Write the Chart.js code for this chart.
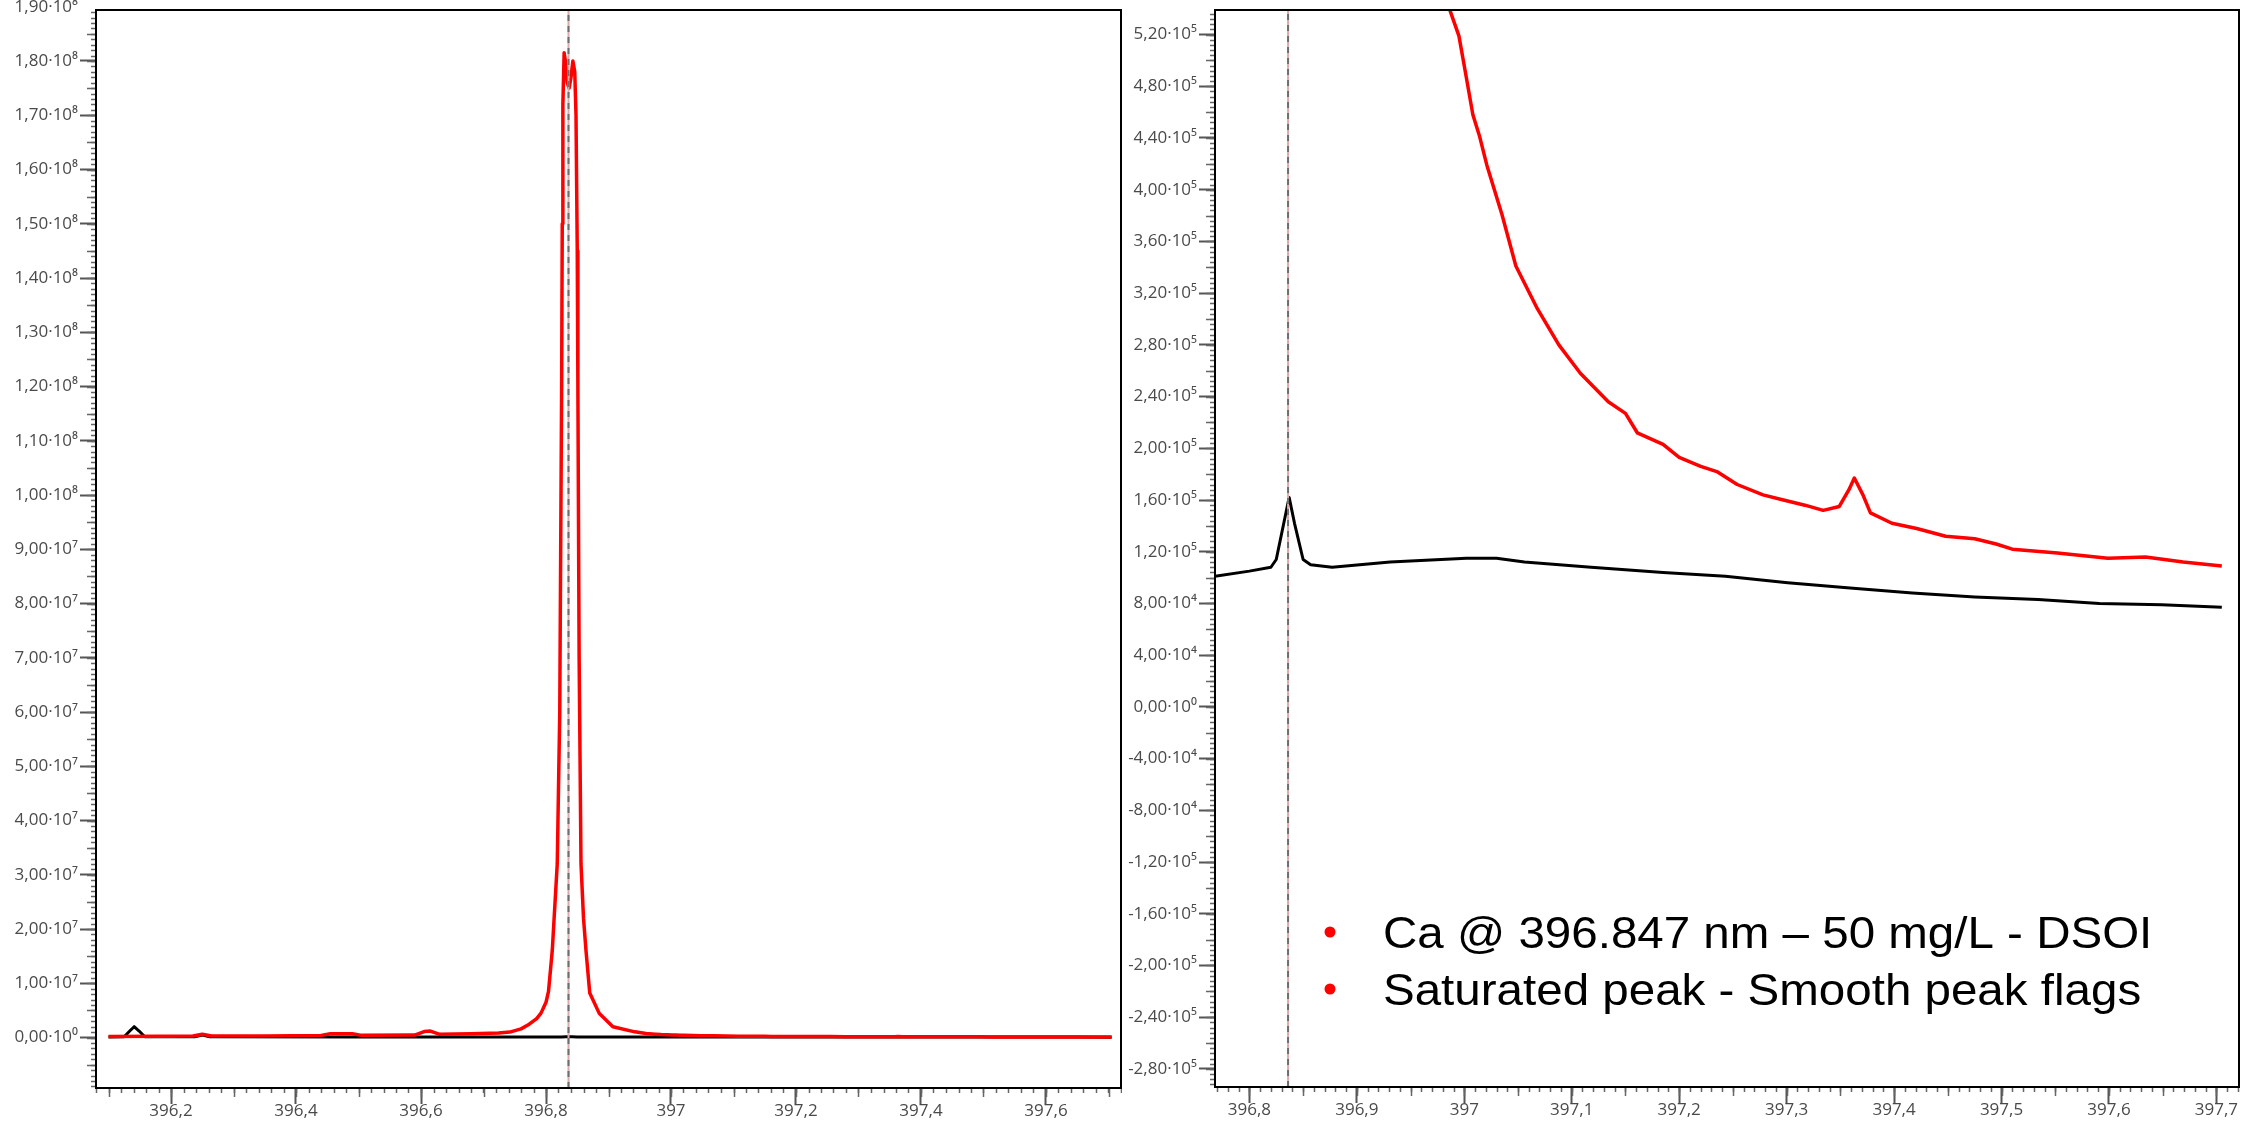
<!DOCTYPE html>
<html>
<head>
<meta charset="utf-8">
<script src="https://cdn.jsdelivr.net/npm/chart.js@4.4.1/dist/chart.umd.min.js"></script>
<style>
  html, body { margin: 0; padding: 0; background: #fff; }
  body { width: 2252px; height: 1130px; position: relative; overflow: hidden; }
  .box { position: absolute; top: 0; }
  #leftBox { left: 0; }
  #rightBox { left: 1122px; }
</style>
</head>
<body>
<div class="box" id="leftBox"><canvas id="leftChart" width="1122" height="1130"></canvas></div>
<div class="box" id="rightBox"><canvas id="rightChart" width="1130" height="1130"></canvas></div>
<script>
// 50 mg/L Ca spectrum (red), wavelength in nm and intensity
const redNm = [
  396.100, 396.180, 396.235, 396.250, 396.265, 396.350, 396.440, 396.455, 396.490, 396.505,
  396.590, 396.605, 396.615, 396.630, 396.680, 396.724, 396.742, 396.760, 396.771, 396.785,
  396.792, 396.800, 396.804, 396.810, 396.818, 396.822, 396.825, 396.826, 396.827, 396.829,
  396.831, 396.834, 396.837, 396.840, 396.843, 396.846, 396.848, 396.850, 396.851, 396.853,
  396.856, 396.860, 396.864, 396.870, 396.885, 396.907, 396.942, 396.960, 396.975, 396.984,
  396.995, 397.001, 397.008, 397.014, 397.021, 397.035, 397.048, 397.068, 397.088, 397.108,
  397.134, 397.150, 397.161, 397.185, 397.200, 397.220, 397.235, 397.254, 397.278, 397.297,
  397.317, 397.334, 397.349, 397.358, 397.363, 397.371, 397.378, 397.398, 397.421, 397.448,
  397.475, 397.495, 397.510, 397.552, 397.599, 397.634, 397.669, 397.705
];
const redCounts = [
  2.0e5, 2.5e5, 3.0e5, 6.0e5, 3.0e5, 3.0e5, 4.0e5, 7.0e5, 7.0e5, 4.0e5,
  4.5e5, 1.1e6, 1.2e6, 6.0e5, 7.0e5, 8.5e5, 1.0e6, 1.6e6, 2.3e6, 3.5e6,
  4.5e6, 6.5e6, 8.5e6, 1.6e7, 3.2e7, 6.0e7, 1.2e8, 1.5e8, 1.72e8, 1.815e8,
  1.80e8, 1.76e8, 1.75e8, 1.77e8, 1.80e8, 1.78e8, 1.70e8, 1.45e8, 1.20e8, 7.0e7,
  3.2e7, 2.2e7, 1.6e7, 8.2e6, 4.5e6, 2.0e6, 1.05e6, 7.6e5, 6.2e5, 5.45e5,
  5.19e5, 4.91e5, 4.58e5, 4.42e5, 4.19e5, 3.81e5, 3.41e5, 3.08e5, 2.80e5, 2.58e5,
  2.36e5, 2.27e5, 2.12e5, 2.03e5, 1.93e5, 1.86e5, 1.82e5, 1.72e5, 1.64e5, 1.60e5,
  1.56e5, 1.52e5, 1.55e5, 1.68e5, 1.77e5, 1.64e5, 1.50e5, 1.42e5, 1.38e5, 1.32e5,
  1.30e5, 1.26e5, 1.22e5, 1.19e5, 1.15e5, 1.16e5, 1.12e5, 1.09e5
];

// second spectrum (black)
const blackNm = [
  396.100, 396.125, 396.134, 396.141, 396.149, 396.158, 396.238, 396.250, 396.262, 396.500,
  396.700, 396.768, 396.800, 396.820, 396.825, 396.832, 396.837, 396.842, 396.850, 396.857,
  396.877, 396.931, 397.002, 397.030, 397.056, 397.118, 397.185, 397.243, 397.301, 397.359,
  397.417, 397.475, 397.534, 397.591, 397.649, 397.705
];
const blackCounts = [
  1.0e5, 1.5e5, 1.2e6, 2.0e6, 1.2e6, 1.5e5, 1.5e5, 4.5e5, 1.5e5, 1.0e5,
  9.5e4, 1.01e5, 1.05e5, 1.08e5, 1.14e5, 1.42e5, 1.62e5, 1.42e5, 1.14e5, 1.10e5,
  1.08e5, 1.12e5, 1.15e5, 1.15e5, 1.12e5, 1.08e5, 1.04e5, 1.01e5, 9.6e4, 9.2e4,
  8.8e4, 8.5e4, 8.3e4, 8.0e4, 7.9e4, 7.7e4
];

// peak marker position (nm)
const markerNm = [396.836];

const noteLines = ['Ca @ 396.847 nm \u2013 50 mg/L - DSOI', 'Saturated peak - Smooth peak flags'];

// axis windows
const leftX = [396.08, 397.72];
const leftY = [-9.3e6, 1.894e8];
const rightX = [396.768, 397.721];
const rightY = [-2.94e5, 5.39e5];

const sup = { '0': '\u2070', '1': '\u00b9', '2': '\u00b2', '3': '\u00b3', '4': '\u2074',
  '5': '\u2075', '6': '\u2076', '7': '\u2077', '8': '\u2078', '9': '\u2079', '-': '\u207b' };

function sciLabel(v) {
  if (Math.abs(v) < 1e-3) return '0,00\u00b710\u2070';
  const e = Math.floor(Math.log10(Math.abs(v)) + 1e-9);
  const m = v / Math.pow(10, e);
  return m.toFixed(2).replace('.', ',') + '\u00b710' + String(e).split('').map(c => sup[c]).join('');
}

function nmLabel(v) {
  return (Math.round(v * 10) / 10).toString().replace('.', ',');
}

// ticks at every multiple of step inside the window (extra = one more above the top)
function stepTicks(step, extra) {
  return scale => {
    const out = [];
    const first = Math.ceil(scale.min / step - 1e-9);
    const last = Math.floor(scale.max / step + 1e-9) + (extra || 0);
    for (let i = first; i <= last; i++) out.push({ value: +(i * step).toPrecision(12) });
    scale.ticks = out;
  };
}

function toPoints(xs, ys) {
  return xs.map((x, i) => ({ x: x, y: ys[i] }));
}

const tickFont = { family: "'Open Sans', 'DejaVu Sans', sans-serif", size: 17 };
const tickColor = '#4a4a4a';

// box frame plus the small intermediate tick marks
const frameAndTicks = {
  id: 'frameAndTicks',
  afterDraw(chart, args, opts) {
    const { ctx, chartArea: a, scales } = chart;
    ctx.save();
    ctx.strokeStyle = '#666';
    ctx.lineWidth = 1.5;
    opts.minor.forEach(([id, step, len]) => {
      const s = scales[id];
      const first = Math.ceil(s.min / step - 1e-6);
      const last = Math.floor(s.max / step + 1e-6);
      ctx.beginPath();
      for (let i = first; i <= last; i++) {
        const p = Math.round(s.getPixelForValue(i * step)) + 0.5;
        if (s.axis === 'x') {
          ctx.moveTo(p, a.bottom);
          ctx.lineTo(p, a.bottom + len);
        } else {
          ctx.moveTo(a.left - len, p);
          ctx.lineTo(a.left, p);
        }
      }
      ctx.stroke();
    });
    ctx.strokeStyle = '#000';
    ctx.lineWidth = 2;
    ctx.strokeRect(a.left, a.top, a.right - a.left, a.bottom - a.top);
    ctx.restore();
  }
};

// bullet text drawn inside the right plot
const notePlugin = {
  id: 'notePlugin',
  afterDraw(chart, args, opts) {
    if (!opts.lines) return;
    const ctx = chart.ctx;
    ctx.save();
    opts.lines.forEach((txt, i) => {
      const base = opts.y + i * opts.gap;
      ctx.fillStyle = '#ff0000';
      ctx.beginPath();
      ctx.arc(opts.dotX, base - 16, 5.5, 0, Math.PI * 2);
      ctx.fill();
      ctx.fillStyle = '#000';
      ctx.font = "44px 'Liberation Sans', Arial, sans-serif";
      ctx.textBaseline = 'alphabetic';
      ctx.translate(opts.x, base);
      ctx.scale(1.08, 1);
      ctx.fillText(txt, 0, 0);
      ctx.setTransform(1, 0, 0, 1, 0, 0);
    });
    ctx.restore();
  }
};

function makeChart(canvasId, xr, yr, xStep, yStep, yExtra, yWidth, xHeight, pad, minor, note) {
  const datasets = [
    { data: [{ x: markerNm[0], y: yr[0] }, { x: markerNm[0], y: yr[1] }],
      borderColor: '#dcaaaa', borderWidth: 2, order: 1 },
    { data: [{ x: markerNm[0], y: yr[0] }, { x: markerNm[0], y: yr[1] }],
      borderColor: '#6e6e6e', borderWidth: 2, borderDash: [6, 5], order: 0 },
    { data: toPoints(redNm, redCounts), borderColor: '#ff0000', borderWidth: 3.5, order: 2 },
    { data: toPoints(blackNm, blackCounts), borderColor: '#000000', borderWidth: 3, order: 3 }
  ];
  // no tick mark for a label that sits outside the plot window
  const markColor = c => (c.tick && c.tick.value > yr[1]) ? 'rgba(0,0,0,0)' : '#555';
  return new Chart(document.getElementById(canvasId), {
    type: 'scatter',
    data: { datasets: datasets },
    options: {
      responsive: false,
      animation: false,
      showLine: true,
      elements: { point: { radius: 0 }, line: { tension: 0, borderJoinStyle: 'round' } },
      layout: { padding: pad },
      plugins: {
        legend: { display: false },
        tooltip: { enabled: false },
        frameAndTicks: { minor: minor },
        notePlugin: note
      },
      scales: {
        x: {
          type: 'linear', min: xr[0], max: xr[1],
          afterBuildTicks: stepTicks(xStep),
          afterFit(s) { s.height = xHeight; s.paddingLeft = 0; s.paddingRight = 0; },
          ticks: { callback: nmLabel, font: tickFont, color: tickColor,
            padding: -3, maxRotation: 0, autoSkip: false },
          grid: { drawOnChartArea: false, tickLength: 16, tickWidth: 2, tickColor: '#555' },
          border: { color: '#000', width: 2 }
        },
        y: {
          type: 'linear', min: yr[0], max: yr[1],
          afterBuildTicks: stepTicks(yStep, yExtra),
          afterFit(s) { s.width = yWidth; s.paddingTop = 0; s.paddingBottom = 0; },
          ticks: { callback: sciLabel, font: tickFont, color: tickColor,
            padding: 2, autoSkip: false },
          grid: { drawOnChartArea: false, tickLength: 16, tickWidth: 2, tickColor: markColor },
          border: { color: '#000', width: 2 }
        }
      }
    },
    plugins: [frameAndTicks, notePlugin]
  });
}

makeChart('leftChart', leftX, leftY, 0.2, 1e7, 1, 96, 42,
  { top: 10, right: 1, bottom: 0, left: 0 },
  [['x', 0.02, 5], ['x', 0.1, 9], ['y', 1e6, 5], ['y', 5e6, 9]],
  {});

makeChart('rightChart', rightX, rightY, 0.1, 4e4, 0, 93, 43,
  { top: 10, right: 13, bottom: 0, left: 0 },
  [['x', 0.01, 5], ['x', 0.05, 9], ['y', 4e3, 5], ['y', 2e4, 9]],
  { lines: noteLines, dotX: 208, x: 261, y: 948, gap: 57 });
</script>
</body>
</html>
